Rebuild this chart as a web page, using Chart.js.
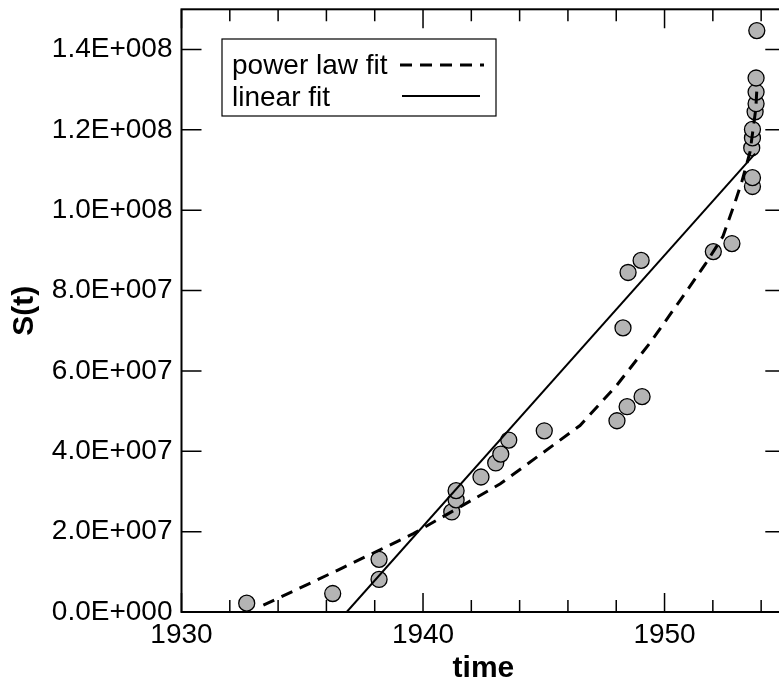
<!DOCTYPE html>
<html>
<head>
<meta charset="utf-8">
<script src="https://cdn.jsdelivr.net/npm/chart.js@4/dist/chart.umd.min.js"></script>
<style>
  html, body { margin: 0; padding: 0; background: #fff; overflow: hidden; }
  #wrap { width: 800px; height: 684px; }
</style>
</head>
<body>
<div id="wrap"><canvas id="chart" width="800" height="684"></canvas></div>
<script>
const years = [1932.70, 1936.26, 1938.18, 1938.18, 1941.19, 1941.37, 1941.37, 1942.40, 1943.01, 1943.22,
               1943.55, 1945.02, 1948.03, 1948.45, 1949.07, 1948.28, 1948.49, 1949.03, 1952.02, 1952.79,
               1953.64, 1953.64, 1953.61, 1953.64, 1953.64, 1953.75, 1953.79, 1953.79, 1953.79, 1953.82];
const sizes = [2.2e6, 4.6e6, 1.31e7, 8.1e6, 2.49e7, 2.79e7, 3.02e7, 3.36e7, 3.71e7, 3.93e7,
               4.28e7, 4.51e7, 4.76e7, 5.11e7, 5.36e7, 7.07e7, 8.45e7, 8.75e7, 8.97e7, 9.17e7,
               1.059e8, 1.081e8, 1.155e8, 1.180e8, 1.201e8, 1.245e8, 1.265e8, 1.294e8, 1.329e8, 1.447e8];

// power law fit curve, traced
const powerYears = [1933.39, 1936.5, 1939.6, 1943.2, 1946.5, 1948.03, 1949.4, 1950.64, 1951.68, 1952.42,
                    1952.92, 1953.2, 1953.54, 1953.78, 1953.83];
const powerVals  = [1.7e6, 1.05e7, 1.95e7, 3.19e7, 4.64e7, 5.65e7, 6.7e7, 7.75e7, 8.65e7, 9.35e7,
                    1.02e8, 1.071e8, 1.145e8, 1.253e8, 1.31e8];

// linear fit end points
const linearYears = [1936.84, 1953.75];
const linearVals  = [0, 1.141e8];

const xTicks = [1930, 1940, 1950];
const yTicks = [0, 2e7, 4e7, 6e7, 8e7, 1e8, 1.2e8, 1.4e8];

const FONT = '"Liberation Sans", Arial, sans-serif';

const zip = (xs, ys) => xs.map((x, i) => ({x: x, y: ys[i]}));

function sci(v) {
  if (v === 0) return '0.0E+000';
  const e = Math.floor(Math.log10(v) + 1e-9);
  const m = v / Math.pow(10, e);
  return m.toFixed(1) + 'E+' + String(e).padStart(3, '0');
}

// frame, inward ticks and the boxed legend
const frame = {
  id: 'frame',
  afterDraw(chart) {
    const ctx = chart.ctx;
    const a = chart.chartArea;
    const xs = chart.scales.x, ys = chart.scales.y;
    ctx.save();
    ctx.strokeStyle = '#000';
    ctx.lineWidth = 2;
    ctx.strokeRect(a.left, a.top, a.right - a.left, a.bottom - a.top);

    ctx.lineWidth = 1.5;
    ctx.beginPath();
    for (let t = 1930; t <= 1955; t += 2) {
      const px = xs.getPixelForValue(t);
      const len = xTicks.includes(t) ? 19 : 12;
      ctx.moveTo(px, a.bottom); ctx.lineTo(px, a.bottom - len);
      ctx.moveTo(px, a.top); ctx.lineTo(px, a.top + len);
    }
    yTicks.forEach(v => {
      const py = ys.getPixelForValue(v);
      ctx.moveTo(a.left, py); ctx.lineTo(a.left + 20, py);
      ctx.moveTo(a.right, py); ctx.lineTo(a.right - 20, py);
    });
    ctx.stroke();

    // legend
    const box = {left: 222, top: 39, w: 274, h: 77};
    ctx.fillStyle = '#fff';
    ctx.fillRect(box.left, box.top, box.w, box.h);
    ctx.lineWidth = 1.2;
    ctx.strokeRect(box.left, box.top, box.w, box.h);
    ctx.fillStyle = '#000';
    ctx.font = '28px ' + FONT;
    ctx.textBaseline = 'alphabetic';
    ctx.textAlign = 'left';
    const pl = chart.data.datasets[1], lf = chart.data.datasets[2];
    ctx.fillText(pl.label, box.left + 10, box.top + 35);
    ctx.fillText(lf.label, box.left + 10, box.top + 67);
    ctx.lineWidth = pl.borderWidth;
    ctx.setLineDash(pl.borderDash);
    ctx.beginPath(); ctx.moveTo(box.left + 178, box.top + 26); ctx.lineTo(box.left + 262, box.top + 26); ctx.stroke();
    ctx.setLineDash([]);
    ctx.lineWidth = lf.borderWidth;
    ctx.beginPath(); ctx.moveTo(box.left + 180, box.top + 57); ctx.lineTo(box.left + 258, box.top + 57); ctx.stroke();
    ctx.restore();
  }
};

new Chart(document.getElementById('chart'), {
  type: 'scatter',
  data: {
    datasets: [
      {
        label: 'S(t)',
        data: zip(years, sizes),
        pointRadius: 8,
        pointBackgroundColor: '#b4b4b4',
        pointBorderColor: '#000',
        pointBorderWidth: 1.3,
        order: 3
      },
      {
        label: 'power law fit',
        data: zip(powerYears, powerVals),
        showLine: true,
        pointRadius: 0,
        borderColor: '#000',
        borderWidth: 3,
        borderDash: [12, 8],
        order: 1
      },
      {
        label: 'linear fit',
        data: zip(linearYears, linearVals),
        showLine: true,
        pointRadius: 0,
        borderColor: '#000',
        borderWidth: 2,
        order: 2
      }
    ]
  },
  options: {
    responsive: false,
    animation: false,
    layout: { padding: { left: 0, right: 14.7, top: 7, bottom: 0 } },
    plugins: { legend: { display: false }, tooltip: { enabled: false } },
    scales: {
      x: {
        type: 'linear',
        min: 1930, max: 1955,
        grid: { display: false, drawTicks: false },
        border: { display: false },
        ticks: { padding: 6, color: '#000', font: { family: FONT, size: 28 }, callback: v => String(v) },
        afterBuildTicks: s => { s.ticks = xTicks.map(v => ({value: v})); },
        afterFit: s => { s.height = 72; s.paddingLeft = 0; s.paddingRight = 0; },
        title: {
          display: true, text: 'time', color: '#000',
          font: { family: FONT, size: 30, weight: 'bold', lineHeight: 1 },
          padding: { top: 0, bottom: 0 }
        }
      },
      y: {
        min: 0, max: 1.5e8,
        grid: { display: false, drawTicks: false },
        border: { display: false },
        ticks: { padding: 9, color: '#000', font: { family: FONT, size: 28 }, callback: v => sci(v) },
        afterBuildTicks: s => { s.ticks = yTicks.map(v => ({value: v})); },
        afterFit: s => { s.width = 181.5; s.paddingTop = 0; s.paddingBottom = 0; },
        title: {
          display: true, text: 'S(t)', color: '#000',
          font: { family: FONT, size: 30, weight: 'bold', lineHeight: 1 },
          padding: { top: 10, bottom: 0 }
        }
      }
    }
  },
  plugins: [frame]
});
</script>
</body>
</html>
